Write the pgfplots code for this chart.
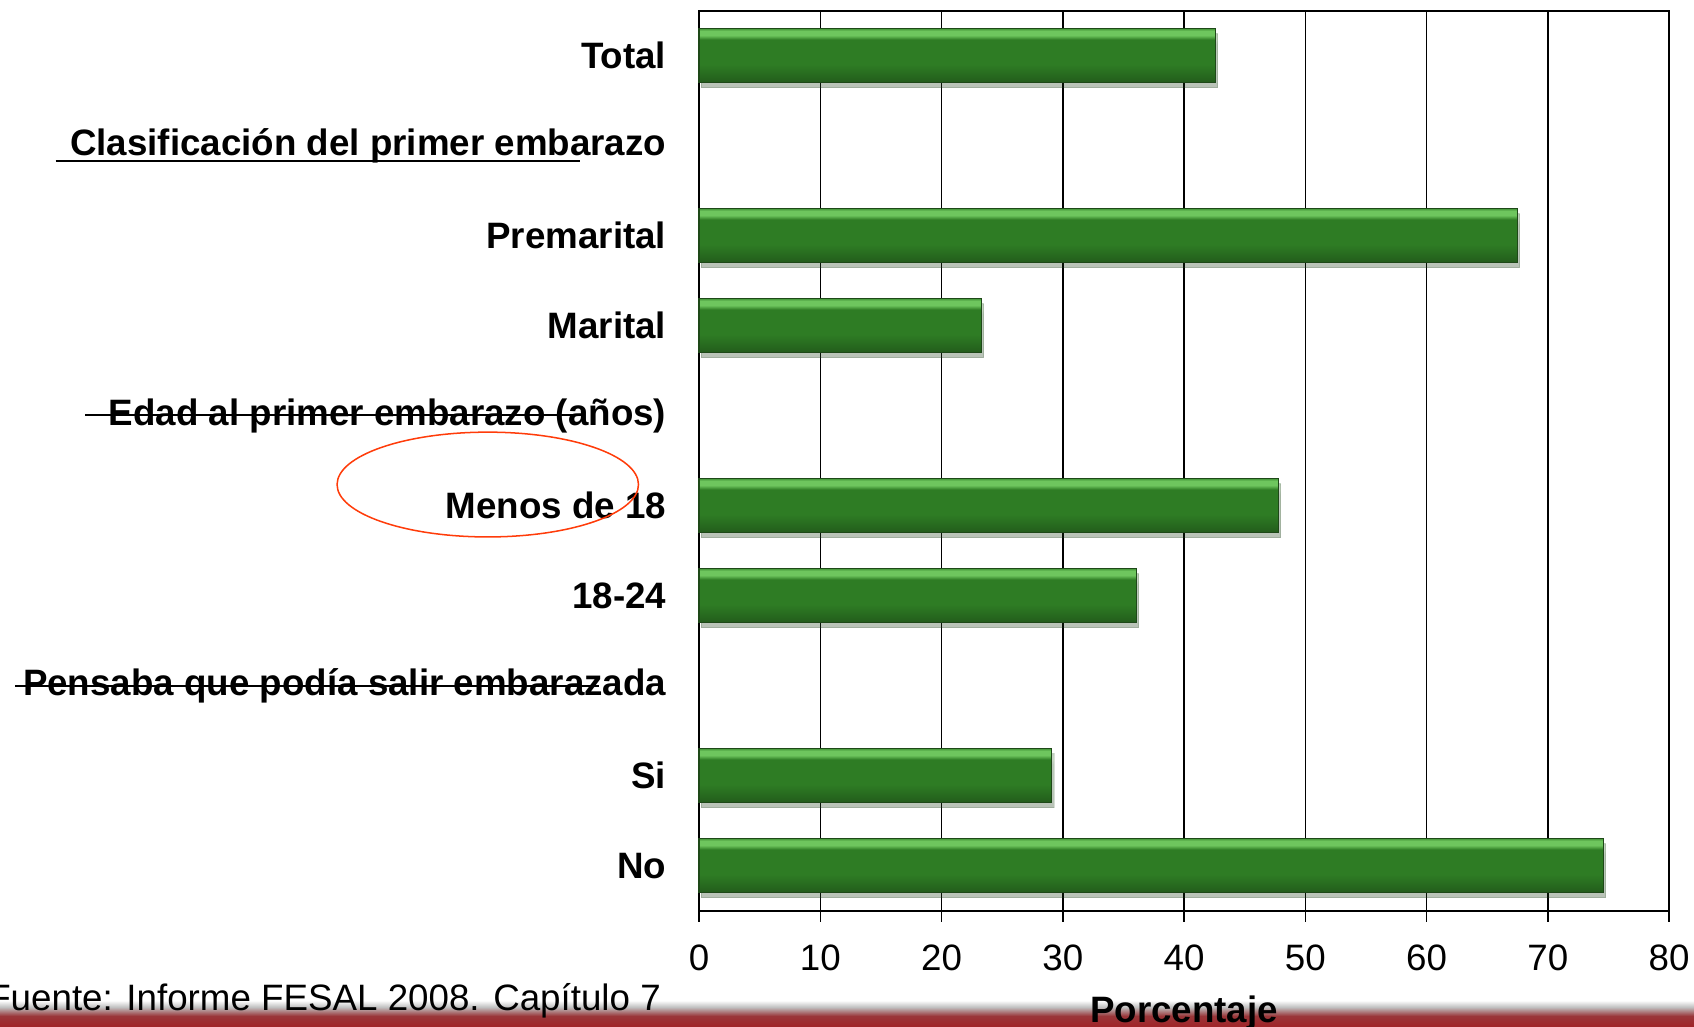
\documentclass[border=0pt]{standalone}
\usepackage{pgfplots}
\pgfplotsset{compat=1.18}
\usepackage{fontspec}
\setmainfont{Liberation Sans}
\usetikzlibrary{shadows}
\definecolor{gdark}{RGB}{36,88,28}
\definecolor{gmid}{RGB}{46,124,36}
\definecolor{glight}{RGB}{110,198,94}
\definecolor{gborder}{RGB}{30,72,24}
\definecolor{bandred}{RGB}{160,36,40}
\definecolor{ellred}{RGB}{255,60,10}
\pgfdeclareverticalshading{greenbar}{100bp}{color(0bp)=(gdark); color(25bp)=(gdark); color(29bp)=(gmid!80!black); color(42bp)=(gmid); color(65bp)=(gmid); color(69bp)=(glight); color(73bp)=(glight); color(75bp)=(gmid!60!glight); color(100bp)=(gmid!60!glight)}
\pgfdeclareverticalshading{band}{100bp}{color(0bp)=(bandred); color(25bp)=(bandred); color(45bp)=(bandred!80!gray); color(62bp)=(black!25); color(75bp)=(white); color(100bp)=(white)}
\pgfplotsset{greenbar/.style={xbar, bar width=0.6, bar shift=0pt, draw=gborder, line width=0.5pt, shading=greenbar,
  drop shadow={shadow xshift=1pt, shadow yshift=-2.2pt, fill=black, opacity=0.16}}}
\begin{document}
\begin{tikzpicture}
\useasboundingbox (0,0) rectangle (784pt,475pt);
\fill[shading=band] (0,0) rectangle (784pt,12pt);
\begin{axis}[
  at={(323.5pt,53.5pt)}, anchor=south west,
  scale only axis, width=449pt, height=416.5pt,
  xmin=0, xmax=80, ymin=-0.5, ymax=9.5,
  y dir=reverse,
  xtick={0,10,...,80},
  ytick={0,1,...,9},
  yticklabels={Total,Clasificación del primer embarazo,Premarital,Marital,Edad al primer embarazo (años),Menos de 18,18-24,Pensaba que podía salir embarazada,Si,No},
  xmajorgrids,
  grid style={black, line width=0.7pt},
  axis line style={black, line width=0.9pt},
  tick align=outside,
  major tick length=5pt,
  xtick pos=bottom,
  ytick style={draw=none},
  xtick style={black, line width=0.7pt},
  /pgf/number format/assume math mode=true,
  xticklabel style={font=\fontsize{17}{20}\selectfont, inner sep=0pt, anchor=north, yshift=-10.8pt},
  yticklabel style={font=\fontsize{17}{20}\selectfont\bfseries, inner sep=0pt, anchor=east, xshift=-10pt},
  xlabel={Porcentaje},
  every axis x label/.style={at={(axis description cs:0.5,0)}, anchor=base, yshift=-51.5pt, font=\fontsize{17}{20}\selectfont\bfseries},
  clip=false,
]
\addplot[greenbar] coordinates {(42.6,0)};
\addplot[greenbar] coordinates {(67.5,2)};
\addplot[greenbar] coordinates {(23.3,3)};
\addplot[greenbar] coordinates {(47.8,5)};
\addplot[greenbar] coordinates {(36.1,6)};
\addplot[greenbar] coordinates {(29.1,8)};
\addplot[greenbar] coordinates {(74.6,9)};
\end{axis}
\node[anchor=base east, font=\fontsize{17}{20}\selectfont, inner sep=0pt] at (306pt,7.5pt) {Fuente: Informe FESAL 2008. Capítulo 7};
\draw[black, line width=1pt] (25.8pt,400.5pt) -- (268.5pt,400.5pt);
\draw[black, line width=1pt] (39.5pt,283pt) -- (266.5pt,283pt);
\draw[black, line width=1pt] (7pt,157.5pt) -- (277pt,157.5pt);
\draw[ellred, line width=0.7pt] (225.75pt,250.75pt) ellipse [x radius=69.75pt, y radius=24.25pt];
\end{tikzpicture}
\end{document}
